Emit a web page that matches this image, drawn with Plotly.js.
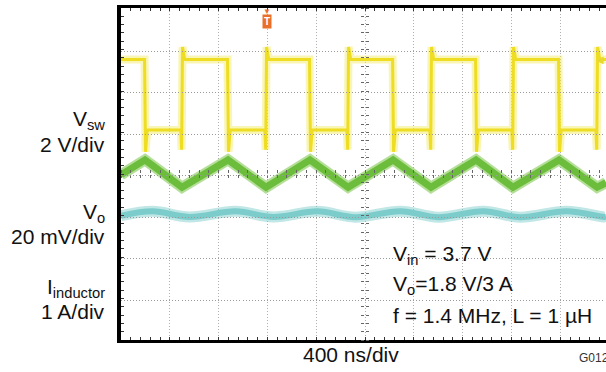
<!DOCTYPE html>
<html><head><meta charset="utf-8">
<script src="https://cdn.plot.ly/plotly-3.0.1.min.js"></script>
<style>html,body{margin:0;padding:0;background:#fff;}#chart{width:606px;height:372px;}</style>
</head><body><div id="chart"></div>
<script>
// ---- data read from the scope capture ----
// switch-node voltage (V), time in ns
const vswTimeNs = [0,
  193, 201, 215,   490, 497, 504, 522,
  873, 881, 895,   1179, 1186, 1193, 1211,
  1545, 1553, 1567, 1851, 1858, 1865, 1883,
  2226, 2234, 2248, 2531, 2538, 2545, 2563,
  2906, 2914, 2928, 3203, 3210, 3217, 3235,
  3586, 3594, 3608, 3892, 3899, 3906, 3924,
  3975];
const vswVolts = [3.4,
  3.4, -1.05, 0,   0, -0.95, 4.0, 3.4,
  3.4, -1.05, 0,   0, -0.95, 4.0, 3.4,
  3.4, -1.05, 0,   0, -0.95, 4.0, 3.4,
  3.4, -1.05, 0,   0, -0.95, 4.0, 3.4,
  3.4, -1.05, 0,   0, -0.95, 4.0, 3.4,
  3.4, -1.05, 0,   0, -0.95, 4.0, 3.4,
  3.4];
// inductor current (A)
const ilTimeNs = [0, 197, 500, 877, 1189, 1549, 1861, 2230, 2541, 2910, 3213, 3590, 3902, 3975];
const ilAmps   = [2.98, 3.34, 2.68, 3.34, 2.68, 3.34, 2.68, 3.34, 2.68, 3.34, 2.68, 3.34, 2.68, 2.79];
// output voltage ripple (mV, AC)
const voTimeNs   = [0, 260, 560, 940, 1250, 1610, 1920, 2290, 2600, 2970, 3270, 3650, 3960, 3975];
const voRippleMv = [-0.8, 1.3, -1.4, 1.3, -1.4, 1.3, -1.5, 1.4, -1.5, 1.4, -1.5, 1.3, -1.4, -1.3];

const channelLabels = ['V<sub>sw</sub>', '2 V/div', 'V<sub>o</sub>', '20 mV/div', 'I<sub>inductor</sub>', '1 A/div'];
const conditionLines = ['V<sub>in</sub> = 3.7 V', 'V<sub>o</sub>=1.8 V/3 A', 'f = 1.4 MHz, L = 1 µH'];
const timebaseLabel = '400 ns/div';
const figureId = 'G012';
const triggerTimeNs = 1200;
// horizontal graticule rows, in divisions from the centre line
const graticuleRows = [-3, -2, -1, 0, 1, 2, 3];

// ---- layout geometry ----
const W = 606, H = 372;
const L = 121, T = 8, B = 32;
const plotW = W - L, plotH = H - T - B;
const px = x => (x - L) / plotW;
const py = y => (H - B - y) / plotH;
const FONT = 'Liberation Sans, Arial, sans-serif';
const gridCol = '#b0b0b0';
const xRange = [0, 3975];
const centerX = px(365);

// empty traces only register the graticule subplots (they draw nothing)
const anchorTrace = (xa, ya) => ({x: [], y: [], xaxis: xa, yaxis: ya, mode: 'lines', hoverinfo: 'skip'});

const traces = [
  anchorTrace('x4', 'y7'), anchorTrace('x5', 'y8'),
  anchorTrace('x6', 'y9'), anchorTrace('x7', 'y10')
];
graticuleRows.forEach((k, i) => traces.push(anchorTrace('x' + (12 + i), 'y' + (12 + i))));
traces.push(
  {x: ilTimeNs, y: ilAmps, xaxis: 'x', yaxis: 'y', mode: 'lines',
   line: {color: 'rgba(120,196,70,0.55)', width: 11}, hoverinfo: 'skip'},
  {x: ilTimeNs, y: ilAmps, xaxis: 'x', yaxis: 'y', mode: 'lines',
   line: {color: '#6cbd3c', width: 7}, hoverinfo: 'skip'},
  {x: voTimeNs, y: voRippleMv, xaxis: 'x', yaxis: 'y4', mode: 'lines',
   line: {color: 'rgba(130,205,205,0.5)', width: 11, shape: 'spline'}, hoverinfo: 'skip'},
  {x: voTimeNs, y: voRippleMv, xaxis: 'x', yaxis: 'y4', mode: 'lines',
   line: {color: '#7ccccc', width: 6, shape: 'spline'}, hoverinfo: 'skip'},
  {x: vswTimeNs, y: vswVolts, xaxis: 'x', yaxis: 'y2', mode: 'lines',
   line: {color: 'rgba(242,232,90,0.45)', width: 8}, hoverinfo: 'skip'},
  {x: vswTimeNs, y: vswVolts, xaxis: 'x', yaxis: 'y2', mode: 'lines',
   line: {color: '#eedd22', width: 3}, hoverinfo: 'skip'}
);

// crosshair tick axes (centre graticule lines), on their own tiny subplots
const hiddenAx = (domain, anchor, range) => ({domain: domain, anchor: anchor, visible: false, range: range || [0, 1], fixedrange: true});
const tickX = (anchor, side) => ({domain: [0, 1], anchor: anchor, side: side, range: xRange, tickmode: 'linear', tick0: 0, dtick: 80,
  ticks: 'outside', ticklen: 3, tickcolor: '#666', tickwidth: 1, showticklabels: false,
  showgrid: false, showline: false, zeroline: false});
const tickY = (anchor, side) => ({domain: [0, 1], anchor: anchor, side: side, range: [-4, 4], tickmode: 'linear', tick0: 0, dtick: 0.2,
  ticks: 'outside', ticklen: 3, tickcolor: '#666', tickwidth: 1, showticklabels: false,
  showgrid: false, showline: false, zeroline: false});
// dotted horizontal graticule rows drawn as dense 1px ticks
const rowAx = anchor => ({domain: [0, 1], anchor: anchor, side: 'bottom', range: xRange, tickmode: 'linear', tick0: 0, dtick: 25,
  ticks: 'outside', ticklen: 1, tickcolor: '#9a9a9a', tickwidth: 1, showticklabels: false,
  showgrid: false, showline: false, zeroline: false, fixedrange: true});

const annotations = [];
const leftYs = [120, 144, 213, 237, 288, 311];
channelLabels.forEach((t, i) => annotations.push({
  text: t, xref: 'paper', yref: 'paper', x: px(107), y: py(leftYs[i]),
  xanchor: 'right', yanchor: 'middle', showarrow: false, font: {family: FONT, size: 21, color: '#111'}}));
const condYs = [255, 285, 315];
conditionLines.forEach((t, i) => annotations.push({
  text: t, xref: 'paper', yref: 'paper', x: px(391), y: py(condYs[i]),
  xanchor: 'left', yanchor: 'middle', showarrow: false, font: {family: FONT, size: 21, color: '#111'}}));
annotations.push({text: timebaseLabel, xref: 'paper', yref: 'paper', x: px(301), y: py(354),
  xanchor: 'left', yanchor: 'middle', showarrow: false, font: {family: FONT, size: 21, color: '#111'}});
annotations.push({text: figureId, xref: 'paper', yref: 'paper', x: px(577), y: py(358),
  xanchor: 'left', yanchor: 'middle', showarrow: false, font: {family: FONT, size: 12, color: '#333'}});
annotations.push({text: '<b>T</b>', xref: 'x', yref: 'paper', x: triggerTimeNs, y: py(21),
  xanchor: 'center', yanchor: 'middle', showarrow: false, bgcolor: '#e8702a', borderpad: 1,
  font: {family: FONT, size: 10, color: '#fff'}});
annotations.push({text: '▼', xref: 'x', yref: 'paper', x: triggerTimeNs, y: py(11),
  xanchor: 'center', yanchor: 'middle', showarrow: false, font: {family: FONT, size: 8, color: '#e8702a'}});
annotations.push({text: '◀', xref: 'paper', yref: 'paper', x: px(606), y: py(59),
  xanchor: 'right', yanchor: 'middle', showarrow: false, font: {family: FONT, size: 10, color: '#e8d830'}});

const layout = {
  width: W, height: H, margin: {l: L, r: 0, t: T, b: B},
  paper_bgcolor: '#fff', plot_bgcolor: 'rgba(0,0,0,0)', showlegend: false,
  xaxis: {domain: [0, 1], anchor: 'y', range: xRange, tickmode: 'linear', tick0: 0, dtick: 400, ticks: 'inside', ticklen: 3,
    tickcolor: '#333', showticklabels: false, showgrid: true, gridcolor: gridCol, griddash: '1px,2px',
    gridwidth: 1, zeroline: false, showline: true, linewidth: 3, linecolor: '#000', mirror: 'allticks',
    minor: {dtick: 80, ticks: 'inside', ticklen: 3, tickcolor: '#333', showgrid: false}},
  // inductor current scale 1 A/div, 3 A on the centre line
  yaxis: {domain: [0, 1], anchor: 'x', range: [-1, 7], tickmode: 'linear', tick0: 3, dtick: 1, ticks: 'inside', ticklen: 3,
    tickcolor: '#333', showticklabels: false, showgrid: false,
    zeroline: false, showline: true, linewidth: 4, linecolor: '#000', mirror: false,
    minor: {dtick: 0.2, ticks: 'inside', ticklen: 3, tickcolor: '#333', showgrid: false}},
  // channel scales: 2 V/div, 20 mV/div
  yaxis2: {overlaying: 'y', anchor: 'x', range: [-10.12, 5.88], visible: false},
  yaxis4: {overlaying: 'y', anchor: 'x', range: [-60.7, 99.3], visible: false},
  // centre crosshair ticks
  xaxis4: tickX('y7', 'bottom'), yaxis7: hiddenAx([0.5, 1], 'x4'),
  xaxis5: tickX('y8', 'top'),    yaxis8: hiddenAx([0, 0.5], 'x5'),
  yaxis9: tickY('x6', 'left'),   xaxis6: hiddenAx([centerX, 1], 'y9'),
  yaxis10: tickY('x7', 'right'), xaxis7: hiddenAx([0, centerX], 'y10'),
  annotations: annotations
};
graticuleRows.forEach((k, i) => {
  layout['xaxis' + (12 + i)] = rowAx('y' + (12 + i));
  layout['yaxis' + (12 + i)] = hiddenAx([(k + 4) / 8, 1], 'x' + (12 + i));
});
Plotly.newPlot('chart', traces, layout, {staticPlot: true, displayModeBar: false});
</script></body></html>
